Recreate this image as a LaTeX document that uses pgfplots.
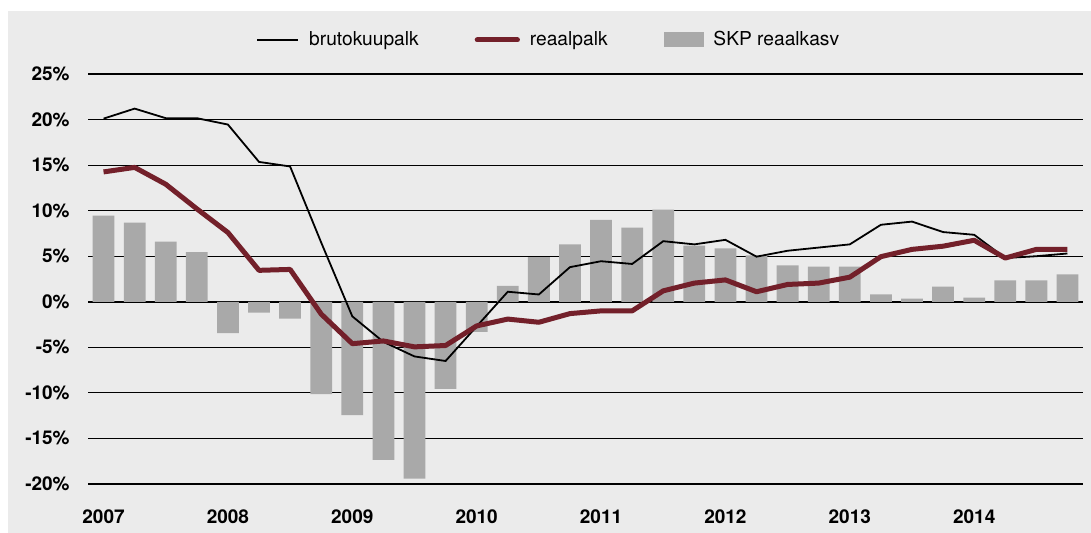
\documentclass[border=0pt]{standalone}
\usepackage{fontspec}
\setmainfont{TeX Gyre Heros}
\usepackage{pgfplots}
\pgfplotsset{compat=1.18}
\definecolor{bgc}{HTML}{EBEBEB}
\definecolor{barc}{HTML}{A9A9A9}
\definecolor{redc}{RGB}{115,32,42}
\begin{document}
\begin{tikzpicture}
\useasboundingbox (0,0) rectangle (545.5pt,266.5pt);
\fill[white] (-1pt,-1pt) rectangle (547pt,268pt);
\fill[bgc] (4pt,-2pt) rectangle (548pt,261pt);
\begin{axis}[
  at={(44pt,24.5pt)}, anchor=south west,
  scale only axis, width=497.5pt, height=205pt,
  xmin=-0.5, xmax=31.5, ymin=-20, ymax=25,
  axis line style={draw=none},
  major tick length=0pt,
  xtick={0,4,8,12,16,20,24,28},
  xticklabels={2007,2008,2009,2010,2011,2012,2013,2014},
  ytick={-20,-15,...,25},
  yticklabel={\pgfmathprintnumber{\tick}\%},
  /pgf/number format/assume math mode=true,
  ticklabel style={font=\bfseries\fontsize{9.5}{11}\selectfont},
  yticklabel style={anchor=east, inner sep=0pt, xshift=-9pt},
  xticklabel style={anchor=north, inner sep=0pt, yshift=-12.5pt},
  ymajorgrids,
  major grid style={black, line width=0.55pt},
  extra y ticks={0}, extra y tick labels={},
  extra y tick style={major grid style={black, line width=1.2pt}},
  legend columns=3,
  legend style={at={(0.464,1.083)}, anchor=center, draw=none, fill=none,
    font=\fontsize{9.6}{12}\selectfont,
    /tikz/every odd column/.append style={column sep=3pt},
    /tikz/every even column/.append style={column sep=26pt}},
  clip=false,
]
\addplot[ybar, bar width=0.7, bar shift=0pt, fill=barc, draw=none, forget plot] coordinates {
(0,9.45) (1,8.7) (2,6.6) (3,5.45) (4,-3.45) (5,-1.2) (6,-1.85) (7,-10.15)
(8,-12.45) (9,-17.35) (10,-19.4) (11,-9.55) (12,-3.3) (13,1.75) (14,4.9) (15,6.3)
(16,9.0) (17,8.15) (18,10.1) (19,6.15) (20,5.85) (21,5.1) (22,4.0) (23,3.85)
(24,3.85) (25,0.8) (26,0.35) (27,1.65) (28,0.45) (29,2.35) (30,2.35) (31,3.0)};
\addplot[black, line width=0.9pt, forget plot] coordinates {
(0,20.1) (1,21.2) (2,20.15) (3,20.15) (4,19.45) (5,15.35) (6,14.85) (7,6.5)
(8,-1.6) (9,-4.4) (10,-6.0) (11,-6.5) (12,-2.7) (13,1.1) (14,0.8) (15,3.8)
(16,4.45) (17,4.15) (18,6.65) (19,6.3) (20,6.8) (21,4.95) (22,5.6) (23,5.95)
(24,6.3) (25,8.45) (26,8.8) (27,7.65) (28,7.35) (29,4.8) (30,5.0) (31,5.3)};
\addplot[redc, line width=2.5pt, line join=round, forget plot] coordinates {
(0,14.25) (1,14.75) (2,12.9) (3,10.2) (4,7.6) (5,3.45) (6,3.55) (7,-1.35)
(8,-4.6) (9,-4.3) (10,-4.95) (11,-4.8) (12,-2.65) (13,-1.9) (14,-2.25) (15,-1.3)
(16,-1.0) (17,-1.0) (18,1.2) (19,2.05) (20,2.4) (21,1.1) (22,1.9) (23,2.05)
(24,2.7) (25,4.95) (26,5.75) (27,6.1) (28,6.75) (29,4.8) (30,5.75) (31,5.75)};
\addlegendimage{legend image code/.code={\draw[black, line width=1pt] (0pt,0pt) -- (20.5pt,0pt);}}
\addlegendentry{brutokuupalk}
\addlegendimage{legend image code/.code={\draw[redc, line width=2.5pt, line cap=round] (1.2pt,0pt) -- (21.3pt,0pt);}}
\addlegendentry{reaalpalk}
\addlegendimage{legend image code/.code={\fill[barc] (0pt,-3.3pt) rectangle (19.5pt,3.7pt);}}
\addlegendentry{SKP reaalkasv}
\end{axis}
\end{tikzpicture}
\end{document}
